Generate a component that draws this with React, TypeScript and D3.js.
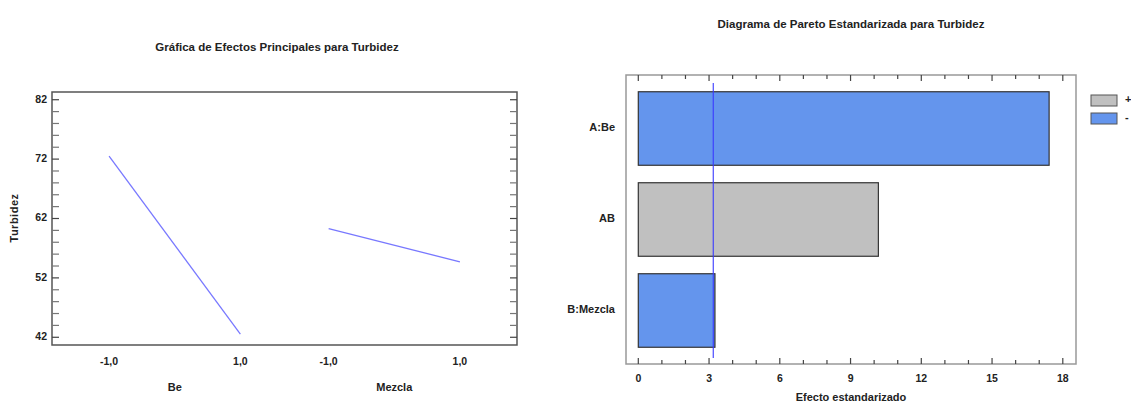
import React from "react";
import * as d3 from "d3";

// main effects plot
const factors = ["Be", "Mezcla"];
const levels = [-1, 1];
const levelLabels = ["-1,0", "1,0"];
const beMeans = [72.5, 42.55];
const mezclaMeans = [60.3, 54.7];
const turbTicks = [42, 52, 62, 72, 82];

// pareto chart
const effects = ["A:Be", "AB", "B:Mezcla"];
const effectValues = [17.42, 10.18, 3.25];
const effectSigns = ["-", "+", "-"];
const critical = 3.18;
const effectTicks = [0, 3, 6, 9, 12, 15, 18];
const legendItems = ["+", "-"];

const font = "'Liberation Sans Narrow', 'Arial Narrow', 'Liberation Sans', Arial, sans-serif";
const signColor = { "+": "#c0c0c0", "-": "#6495ed" };

function MainEffects() {
  const box = { x0: 52, x1: 517, y0: 92, y1: 345 };
  const y = d3.scaleLinear().domain([40.7, 83.3]).range([box.y1, box.y0]);
  const band = d3.scaleBand().domain(factors).range([box.x0, box.x1]).paddingInner(0.402).paddingOuter(0.26);
  const means = [beMeans, mezclaMeans];
  const minor = d3.range(42, 83, 2);
  const line = d3.line<[number, number]>().x(d => d[0]).y(d => d[1]);

  return (
    <g>
      <text x={277} y={48} textAnchor="middle" dominantBaseline="middle" fontFamily={font} fontWeight="bold" fontSize={11.5} fill="#222">
        Gráfica de Efectos Principales para Turbidez
      </text>
      <rect x={box.x0} y={box.y0} width={box.x1 - box.x0} height={box.y1 - box.y0} fill="none" stroke="#555" strokeWidth={1.5} />
      {minor.map(v => (
        <g key={v} stroke={turbTicks.includes(v) ? "#444" : "#777"} strokeWidth={1.2}>
          <line x1={box.x0} x2={box.x0 + 7} y1={y(v)} y2={y(v)} />
          <line x1={box.x1} x2={box.x1 - 7} y1={y(v)} y2={y(v)} />
        </g>
      ))}
      {turbTicks.map(v => (
        <text key={v} x={47} y={y(v)} textAnchor="end" dominantBaseline="middle" fontFamily={font} fontWeight="bold" fontSize={10.5} fill="#222">
          {v}
        </text>
      ))}
      <text transform={`translate(15,${218}) rotate(-90)`} textAnchor="middle" dominantBaseline="middle" fontFamily={font} fontWeight="bold" fontSize={11} fill="#222" letterSpacing={0.5}>
        Turbidez
      </text>
      {factors.map((f, i) => {
        const x = d3.scaleLinear().domain([-1, 1]).range([band(f)!, band(f)! + band.bandwidth()]);
        const pts = levels.map((l, j) => [x(l), y(means[i][j])] as [number, number]);
        return (
          <g key={f}>
            <path d={line(pts)!} fill="none" stroke="#7878ff" strokeWidth={1.3} />
            {levels.map((l, j) => (
              <text key={l} x={x(l)} y={362} textAnchor="middle" dominantBaseline="middle" fontFamily={font} fontWeight="bold" fontSize={10.5} fill="#222">
                {levelLabels[j]}
              </text>
            ))}
            <text x={band(f)! + band.bandwidth() / 2} y={388} textAnchor="middle" dominantBaseline="middle" fontFamily={font} fontWeight="bold" fontSize={11} fill="#222">
              {f}
            </text>
          </g>
        );
      })}
    </g>
  );
}

function Pareto() {
  const box = { x0: 626, x1: 1076, y0: 75, y1: 364 };
  const x = d3.scaleLinear().domain([0, 18]).range([638.3, 1062.8]);
  const y = d3.scaleBand().domain(effects).range([box.y0, box.y1]).paddingInner(0.192).paddingOuter(0.184);
  const minor = d3.range(0, 19, 1);

  return (
    <g>
      <text x={851} y={25} textAnchor="middle" dominantBaseline="middle" fontFamily={font} fontWeight="bold" fontSize={11.5} fill="#222">
        Diagrama de Pareto Estandarizada para Turbidez
      </text>
      <rect x={box.x0} y={box.y0} width={box.x1 - box.x0} height={box.y1 - box.y0} fill="none" stroke="#999" strokeWidth={1.5} />
      {minor.map(v => {
        const len = v % 3 === 0 ? 6 : 4;
        return (
          <g key={v} stroke="#444" strokeWidth={1.2}>
            <line x1={x(v)} x2={x(v)} y1={box.y0} y2={box.y0 + len} />
            <line x1={x(v)} x2={x(v)} y1={box.y1} y2={box.y1 - len} />
          </g>
        );
      })}
      {effects.map((e, i) => (
        <g key={e}>
          <rect x={x(0)} y={y(e)} width={x(effectValues[i]) - x(0)} height={y.bandwidth()} fill={signColor[effectSigns[i]]} stroke="#333" strokeWidth={1.2} />
          <text x={615} y={y(e)! + y.bandwidth() / 2} textAnchor="end" dominantBaseline="middle" fontFamily={font} fontWeight="bold" fontSize={11} fill="#222">
            {e}
          </text>
        </g>
      ))}
      <line x1={x(critical)} x2={x(critical)} y1={83} y2={358} stroke="#3a3aff" strokeOpacity={0.85} strokeWidth={1.3} />
      {effectTicks.map(v => (
        <text key={v} x={x(v)} y={379} textAnchor="middle" dominantBaseline="middle" fontFamily={font} fontWeight="bold" fontSize={10.5} fill="#222">
          {v}
        </text>
      ))}
      <text x={851} y={398} textAnchor="middle" dominantBaseline="middle" fontFamily={font} fontWeight="bold" fontSize={11} fill="#222">
        Efecto estandarizado
      </text>
      {legendItems.map((s, i) => (
        <g key={s}>
          <rect x={1091} y={95 + i * 18} width={26} height={11} fill={signColor[s]} stroke="#555" strokeWidth={1} />
          <text x={1125} y={100 + i * 18} dominantBaseline="middle" fontFamily={font} fontWeight="bold" fontSize={11} fill="#222">
            {s}
          </text>
        </g>
      ))}
    </g>
  );
}

export default function App() {
  return (
    <svg width={1131} height={405} style={{ position: "absolute", left: 0, top: 0, background: "#fff" }}>
      <MainEffects />
      <Pareto />
    </svg>
  );
}
